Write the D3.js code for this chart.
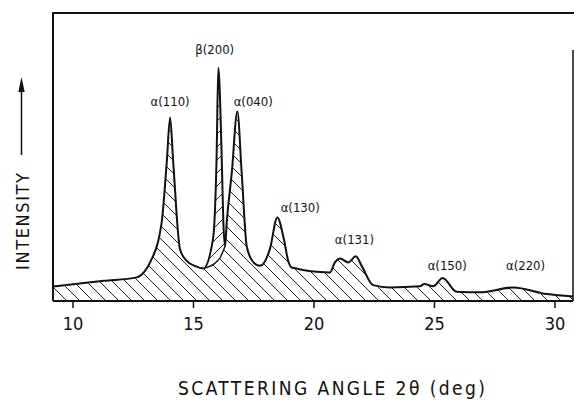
<!DOCTYPE html>
<html><head><meta charset="utf-8">
<script src="https://cdn.jsdelivr.net/npm/d3@7"></script>
<style>
html,body{margin:0;padding:0;background:#fff;}
svg{display:block;}
text{font-family:"DejaVu Sans Condensed","DejaVu Sans",sans-serif;fill:#111;}
</style></head>
<body>
<svg id="chart" width="574" height="405"></svg>
<script>
// ---- data ----
const angle = [9.19, 11.3, 12.66, 13.0, 13.22, 13.70, 13.91, 14.05, 14.18, 14.46, 14.74, 15.1, 15.43,
  15.83, 15.98, 16.05, 16.19, 16.26, 16.33, 16.40, 16.61, 16.84, 17.02, 17.23, 17.50, 17.78,
  18.19, 18.50, 18.77, 18.95, 19.1, 20.68, 20.89, 21.10, 21.44, 21.76, 22.00, 22.48, 23.17,
  24.42, 24.60, 24.97, 25.36, 25.94, 26.91, 28.29, 29.68, 30.77];
const intensity = [5.0, 7.0, 8.2, 10.4, 13.4, 27.3, 48.1, 63.7, 48.1, 18.0, 13.9, 12.1, 11.3,
  21.5, 50.3, 81.0, 50.3, 27.3, 19.0, 27.3, 44.6, 65.8, 44.6, 19.0, 13.5, 12.2,
  18.0, 29.0, 21.5, 14.0, 11.6, 9.9, 13.4, 14.8, 13.4, 15.5, 12.2, 5.5, 4.7,
  5.1, 5.9, 5.1, 8.0, 3.2, 3.0, 4.7, 2.4, 1.6];
// lower boundary of the beta(200) peak region
const betaBaseAngle = [15.43, 15.55, 15.86, 16.13, 16.33];
const betaBaseIntensity = [11.3, 11.6, 12.8, 15.1, 19.0];
const betaRange = [15.43, 16.33];
// peak labels
const peakLabels = ["α(110)", "β(200)", "α(040)", "α(130)", "α(131)", "α(150)", "α(220)"];
const peakLabelAngle = [14.05, 15.9, 17.5, 19.45, 21.7, 25.55, 28.8];
const peakLabelIntensity = [69.4, 87.2, 69.4, 32.3, 21.2, 12.5, 12.5];
const xTicks = [10, 15, 20, 25, 30];
const xDomain = [9.19, 30.77];
const yDomain = [0, 100];

// ---- drawing ----
const svg = d3.select("#chart");
const x = d3.scaleLinear().domain(xDomain).range([53, 573]);
const y = d3.scaleLinear().domain(yDomain).range([301, 13]);

const defs = svg.append("defs");
function hatch(id, dir) {
  const p = defs.append("pattern").attr("id", id).attr("patternUnits", "userSpaceOnUse")
    .attr("width", 13).attr("height", 13);
  p.append("rect").attr("width", 13).attr("height", 13).attr("fill", "#fff");
  const g = p.append("g").attr("stroke", "#222").attr("stroke-width", 1);
  if (dir > 0) {
    g.append("line").attr("x1", 0).attr("y1", 0).attr("x2", 13).attr("y2", 13);
    g.append("line").attr("x1", -6.5).attr("y1", 6.5).attr("x2", 6.5).attr("y2", 19.5);
    g.append("line").attr("x1", 6.5).attr("y1", -6.5).attr("x2", 19.5).attr("y2", 6.5);
  } else {
    g.append("line").attr("x1", 0).attr("y1", 13).attr("x2", 13).attr("y2", 0);
    g.append("line").attr("x1", -6.5).attr("y1", 6.5).attr("x2", 6.5).attr("y2", -6.5);
    g.append("line").attr("x1", 6.5).attr("y1", 19.5).attr("x2", 19.5).attr("y2", 6.5);
  }
}
hatch("hatchA", 1);
hatch("hatchB", -1);

const pts = angle.map((a, i) => [a, intensity[i]]);
const area = d3.area().x(d => x(d[0])).y0(y(0)).y1(d => y(d[1])).curve(d3.curveMonotoneX);
const line = d3.line().x(d => x(d[0])).y(d => y(d[1])).curve(d3.curveMonotoneX);

svg.append("path").datum(pts).attr("d", area).attr("fill", "url(#hatchA)");

// beta region
const betaTop = pts.filter(d => d[0] >= betaRange[0] && d[0] <= betaRange[1]);
const betaBase = betaBaseAngle.map((a, i) => [a, betaBaseIntensity[i]]);
const betaPath = line(betaTop) + line(betaBase.slice().reverse()).replace(/^M/, "L") + "Z";
svg.append("path").attr("d", betaPath).attr("fill", "url(#hatchB)");
svg.append("path").datum(betaBase).attr("d", line).attr("fill", "none")
  .attr("stroke", "#111").attr("stroke-width", 1.4);

svg.append("path").datum(pts).attr("d", line).attr("fill", "none")
  .attr("stroke", "#111").attr("stroke-width", 2).attr("stroke-linejoin", "round");

// frame
const fr = svg.append("g").attr("fill", "none").attr("stroke", "#111").attr("stroke-width", 2);
fr.append("path").attr("d", `M${x(xDomain[0])},${y(0)}V${y(100)}H574`);
fr.append("path").attr("d", `M${x(xDomain[0])},${y(0)}H${x(xDomain[1])}`);
fr.append("path").attr("d", `M${x(xDomain[1])},${y(0)}V50`).attr("stroke-width", 1.5);

// x axis
const ax = svg.append("g").attr("transform", `translate(0,${y(0)})`)
  .call(d3.axisBottom(x).tickValues(xTicks).tickSize(7).tickPadding(9).tickFormat(d3.format("d")));
ax.select(".domain").remove();
ax.selectAll(".tick line").attr("stroke", "#111").attr("stroke-width", 1.5);
ax.selectAll(".tick text").attr("font-size", 18).attr("fill", "#111")
  .attr("font-family", '"DejaVu Sans Condensed","DejaVu Sans",sans-serif');

// peak labels
svg.append("g").selectAll("text").data(peakLabels).join("text")
  .attr("x", (d, i) => x(peakLabelAngle[i]))
  .attr("y", (d, i) => y(peakLabelIntensity[i]))
  .attr("text-anchor", "middle").attr("dominant-baseline", "central")
  .attr("font-size", 13).text(d => d);

// axis titles
svg.append("text").attr("x", 178).attr("y", 388).attr("dominant-baseline", "central")
  .attr("font-size", 19).attr("textLength", 307).attr("lengthAdjust", "spacing")
  .text("SCATTERING ANGLE 2θ (deg)");

svg.append("text").attr("transform", "translate(22,270) rotate(-90)")
  .attr("dominant-baseline", "central").attr("font-size", 18)
  .attr("textLength", 97).attr("lengthAdjust", "spacing").text("INTENSITY");

// arrow
svg.append("line").attr("x1", 21.5).attr("x2", 21.5).attr("y1", 155).attr("y2", 88)
  .attr("stroke", "#111").attr("stroke-width", 1.5);
svg.append("path").attr("d", "M21.5,77 L18.3,92 L24.7,92 Z").attr("fill", "#111");
</script>
</body></html>
